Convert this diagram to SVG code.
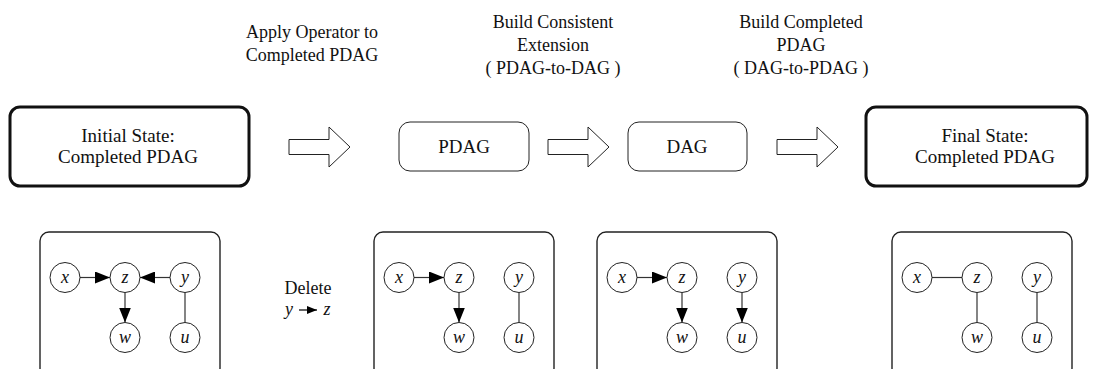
<svg xmlns="http://www.w3.org/2000/svg" width="1096" height="369" viewBox="0 0 1096 369" font-family="'Times New Roman', Times, 'Liberation Serif', 'DejaVu Serif', 'Noto Serif', serif">
<style>
text{font-family:"Times New Roman",Times,"Liberation Serif","DejaVu Serif","Noto Serif",serif}
.t{fill:#111;text-anchor:middle}
.bt{font-size:19px}
.lt{font-size:18px}
.thick{fill:#fff;stroke:#111;stroke-width:3}
.thin{fill:#fff;stroke:#222;stroke-width:1}
.gbox{fill:#fff;stroke:#222;stroke-width:1.4}
.blk{fill:#fff;stroke:#222;stroke-width:1}
.nd circle{fill:#fff;stroke:#222;stroke-width:1}
.nd text{font-style:italic;font-size:18px;text-anchor:middle;fill:#111}
.e{stroke:#333;stroke-width:1.2;fill:none}
</style>
<defs>
<marker id="ah" markerWidth="15" markerHeight="12" refX="15" refY="6" orient="auto" markerUnits="userSpaceOnUse">
<path d="M0,0 L15,6 L0,12 z" fill="#000"/>
</marker>
<marker id="ahs" markerWidth="10" markerHeight="8" refX="10" refY="4" orient="auto" markerUnits="userSpaceOnUse">
<path d="M0,0 L10,4 L0,8 z" fill="#000"/>
</marker>
<path id="barrow" d="M0,-7.5 H40 V-20 L61,0 L40,20 V7.5 H0 Z"/>
</defs>

<g id="label-apply">
<text class="t lt" x="312" y="38">Apply Operator to</text>
<text class="t lt" x="312" y="61">Completed PDAG</text>
</g>
<g id="label-consistent">
<text class="t lt" x="553" y="28">Build Consistent</text>
<text class="t lt" x="553" y="51">Extension</text>
<text class="t lt" x="553" y="74">( PDAG-to-DAG )</text>
</g>
<g id="label-completed">
<text class="t lt" x="801" y="28">Build Completed</text>
<text class="t lt" x="801" y="51">PDAG</text>
<text class="t lt" x="801" y="74">( DAG-to-PDAG )</text>
</g>

<g id="initial-state">
<rect class="thick" x="10" y="107" width="239" height="79" rx="10"/>
<text class="t bt" x="128" y="142">Initial State:</text>
<text class="t bt" x="128" y="163">Completed PDAG</text>
</g>
<g id="pdag">
<rect class="thin" x="399" y="122" width="130" height="49" rx="11"/>
<text class="t bt" x="464" y="153">PDAG</text>
</g>
<g id="dag">
<rect class="thin" x="628" y="122" width="119" height="49" rx="11"/>
<text class="t bt" x="687" y="153">DAG</text>
</g>
<g id="final-state">
<rect class="thick" x="866" y="107" width="221" height="79" rx="10"/>
<text class="t bt" x="985" y="142">Final State:</text>
<text class="t bt" x="985" y="163">Completed PDAG</text>
</g>

<g id="connectors-top">
<use href="#barrow" class="blk" transform="translate(289,147)"/>
<use href="#barrow" class="blk" transform="translate(548,147)"/>
<use href="#barrow" class="blk" transform="translate(777,147)"/>
</g>

<g id="delete-label">
<text class="t lt" x="308" y="294">Delete</text>
<text class="t lt" x="289" y="315" font-style="italic">y</text>
<line x1="299" y1="310" x2="317" y2="310" stroke="#000" stroke-width="1.2" marker-end="url(#ahs)"/>
<text class="t lt" x="327" y="315" font-style="italic">z</text>
</g>

<g id="graph1">
<rect class="gbox" x="40" y="232" width="180" height="145" rx="9"/>
<g id="g1-edges">
<line class="e" x1="80" y1="277.5" x2="110" y2="277.5" marker-end="url(#ah)"/>
<line class="e" x1="170" y1="277.5" x2="140" y2="277.5" marker-end="url(#ah)"/>
<line class="e" x1="125" y1="292.5" x2="125" y2="322.5" marker-end="url(#ah)"/>
<line class="e" x1="185" y1="292.5" x2="185" y2="322.5"/>
</g>
<g class="nd" id="g1-x"><circle cx="65" cy="277.5" r="15"/><text x="65" y="283">x</text></g>
<g class="nd" id="g1-z"><circle cx="125" cy="277.5" r="15"/><text x="125" y="283">z</text></g>
<g class="nd" id="g1-y"><circle cx="185" cy="277.5" r="15"/><text x="185" y="283">y</text></g>
<g class="nd" id="g1-w"><circle cx="125" cy="337.5" r="15"/><text x="125" y="343">w</text></g>
<g class="nd" id="g1-u"><circle cx="185" cy="337.5" r="15"/><text x="185" y="343">u</text></g>
</g>

<g id="graph2">
<rect class="gbox" x="374" y="232" width="180" height="145" rx="9"/>
<g id="g2-edges">
<line class="e" x1="414" y1="277.5" x2="444" y2="277.5" marker-end="url(#ah)"/>
<line class="e" x1="459" y1="292.5" x2="459" y2="322.5" marker-end="url(#ah)"/>
<line class="e" x1="519" y1="292.5" x2="519" y2="322.5"/>
</g>
<g class="nd" id="g2-x"><circle cx="399" cy="277.5" r="15"/><text x="399" y="283">x</text></g>
<g class="nd" id="g2-z"><circle cx="459" cy="277.5" r="15"/><text x="459" y="283">z</text></g>
<g class="nd" id="g2-y"><circle cx="519" cy="277.5" r="15"/><text x="519" y="283">y</text></g>
<g class="nd" id="g2-w"><circle cx="459" cy="337.5" r="15"/><text x="459" y="343">w</text></g>
<g class="nd" id="g2-u"><circle cx="519" cy="337.5" r="15"/><text x="519" y="343">u</text></g>
</g>

<g id="graph3">
<rect class="gbox" x="597" y="232" width="180" height="145" rx="9"/>
<g id="g3-edges">
<line class="e" x1="637" y1="277.5" x2="667" y2="277.5" marker-end="url(#ah)"/>
<line class="e" x1="682" y1="292.5" x2="682" y2="322.5" marker-end="url(#ah)"/>
<line class="e" x1="742" y1="292.5" x2="742" y2="322.5" marker-end="url(#ah)"/>
</g>
<g class="nd" id="g3-x"><circle cx="622" cy="277.5" r="15"/><text x="622" y="283">x</text></g>
<g class="nd" id="g3-z"><circle cx="682" cy="277.5" r="15"/><text x="682" y="283">z</text></g>
<g class="nd" id="g3-y"><circle cx="742" cy="277.5" r="15"/><text x="742" y="283">y</text></g>
<g class="nd" id="g3-w"><circle cx="682" cy="337.5" r="15"/><text x="682" y="343">w</text></g>
<g class="nd" id="g3-u"><circle cx="742" cy="337.5" r="15"/><text x="742" y="343">u</text></g>
</g>

<g id="graph4">
<rect class="gbox" x="892" y="232" width="180" height="145" rx="9"/>
<g id="g4-edges">
<line class="e" x1="932" y1="277.5" x2="962" y2="277.5"/>
<line class="e" x1="977" y1="292.5" x2="977" y2="322.5"/>
<line class="e" x1="1037" y1="292.5" x2="1037" y2="322.5"/>
</g>
<g class="nd" id="g4-x"><circle cx="917" cy="277.5" r="15"/><text x="917" y="283">x</text></g>
<g class="nd" id="g4-z"><circle cx="977" cy="277.5" r="15"/><text x="977" y="283">z</text></g>
<g class="nd" id="g4-y"><circle cx="1037" cy="277.5" r="15"/><text x="1037" y="283">y</text></g>
<g class="nd" id="g4-w"><circle cx="977" cy="337.5" r="15"/><text x="977" y="343">w</text></g>
<g class="nd" id="g4-u"><circle cx="1037" cy="337.5" r="15"/><text x="1037" y="343">u</text></g>
</g>
</svg>
